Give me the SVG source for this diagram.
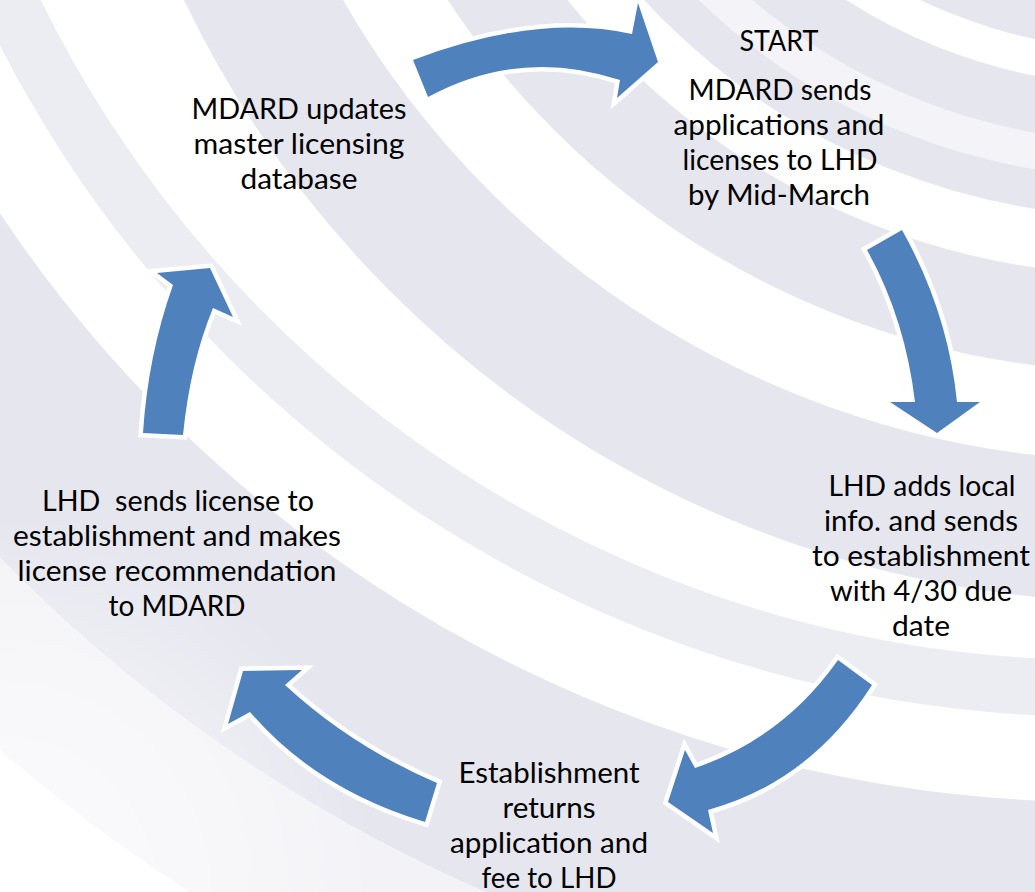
<svg xmlns="http://www.w3.org/2000/svg" width="1035" height="892" viewBox="0 0 1035 892">
  <defs>
    <radialGradient id="fade" gradientUnits="userSpaceOnUse" cx="0" cy="892" r="380">
      <stop offset="0" stop-color="#FFFFFF" stop-opacity="0.7"/>
      <stop offset="0.6" stop-color="#FFFFFF" stop-opacity="0.35"/>
      <stop offset="1" stop-color="#FFFFFF" stop-opacity="0"/>
    </radialGradient>
  </defs>
  <style>
    .ring { fill: none; stroke: #E6E6EF; }
    .ring-light { fill: none; stroke: #ECECF3; }
    .ring-faint { fill: none; stroke: #F3F3F7; }
    .arrow { fill: #4F81BD; stroke: #FFFFFF; stroke-width: 9; stroke-linejoin: miter; paint-order: stroke; }
    text { font-family: Lato, "Noto Sans", "Liberation Sans", sans-serif; font-size: 29px; fill: #000000; text-anchor: middle; white-space: pre; }
  </style>
  <g id="background">
    <rect x="0" y="0" width="1035" height="892" fill="#FFFFFF"/>
    <circle cx="1140" cy="-458" r="508" fill="#E6E6EF"/>
    <circle class="ring" cx="1140" cy="-458" r="609.5" stroke-width="131"/>
    <circle cx="1140" cy="-458" r="618" fill="none" stroke="#F4F4F8" stroke-width="36"/>
    <circle class="ring" cx="1140" cy="-458" r="781.5" stroke-width="97"/>
    <circle class="ring" cx="1140" cy="-458" r="989.5" stroke-width="141"/>
    <circle class="ring-light" cx="1100" cy="-520" r="1208.5" stroke-width="57"/>
    <circle class="ring" cx="1100" cy="-520" r="1431" stroke-width="218"/>
    <circle class="ring-faint" cx="1100" cy="-520" r="1610" stroke-width="140"/>
    <rect x="0" y="0" width="1035" height="892" fill="url(#fade)"/>
  </g>
  <g id="connectors">
    <path class="arrow" d="M413,60 Q537,13 632,34 L638,3 L658,62 L617,98 L620,80 Q520,47 428,97 Z"/>
    <path class="arrow" d="M902,230 Q948,312 957,402 L980,402 L937,433 L890,402 L915,402 Q905,318 867,250 Z"/>
    <path class="arrow" d="M838,660 Q783,738 695,768 L685,750 L668,802 L713,833 L708,810 Q810,782 872,685 Z"/>
    <path class="arrow" d="M437,783 Q351,746 285,685 L302,670 L243,671 L228,724 L250,712 Q316,789 425,822 Z"/>
    <path class="arrow" d="M143,433 Q148,355 173,285 L157,273 L210,268 L233,317 L213,308 Q190,364 183,435 Z"/>
  </g>
  <g id="node-start">
    <text x="779" y="51" textLength="79" lengthAdjust="spacingAndGlyphs">START</text>
    <text x="780" y="100" textLength="183" lengthAdjust="spacingAndGlyphs">MDARD sends</text>
    <text x="779" y="135" textLength="211" lengthAdjust="spacingAndGlyphs">applications and</text>
    <text x="780" y="170" textLength="195" lengthAdjust="spacingAndGlyphs">licenses to LHD</text>
    <text x="779" y="205" textLength="182" lengthAdjust="spacingAndGlyphs">by Mid-March</text>
  </g>
  <g id="node-lhd-adds">
    <text x="922" y="496" textLength="187" lengthAdjust="spacingAndGlyphs">LHD adds local</text>
    <text x="921" y="531" textLength="194" lengthAdjust="spacingAndGlyphs">info. and sends</text>
    <text x="921" y="566" textLength="218" lengthAdjust="spacingAndGlyphs">to establishment</text>
    <text x="921" y="601" textLength="182" lengthAdjust="spacingAndGlyphs">with 4/30 due</text>
    <text x="921" y="636" textLength="58" lengthAdjust="spacingAndGlyphs">date</text>
  </g>
  <g id="node-establishment">
    <text x="549" y="783" textLength="181" lengthAdjust="spacingAndGlyphs">Establishment</text>
    <text x="549" y="818" textLength="93" lengthAdjust="spacingAndGlyphs">returns</text>
    <text x="549" y="853" textLength="198" lengthAdjust="spacingAndGlyphs">application and</text>
    <text x="549" y="888" textLength="135" lengthAdjust="spacingAndGlyphs">fee to LHD</text>
  </g>
  <g id="node-lhd-sends">
    <text x="178" y="511" textLength="272" lengthAdjust="spacingAndGlyphs">LHD  sends license to</text>
    <text x="177" y="546" textLength="328" lengthAdjust="spacingAndGlyphs">establishment and makes</text>
    <text x="177" y="581" textLength="319" lengthAdjust="spacingAndGlyphs">license recommendation</text>
    <text x="177" y="616" textLength="137" lengthAdjust="spacingAndGlyphs">to MDARD</text>
  </g>
  <g id="node-mdard-updates">
    <text x="299" y="119" textLength="215" lengthAdjust="spacingAndGlyphs">MDARD updates</text>
    <text x="299" y="154" textLength="211" lengthAdjust="spacingAndGlyphs">master licensing</text>
    <text x="299" y="189" textLength="117" lengthAdjust="spacingAndGlyphs">database</text>
  </g>
</svg>
